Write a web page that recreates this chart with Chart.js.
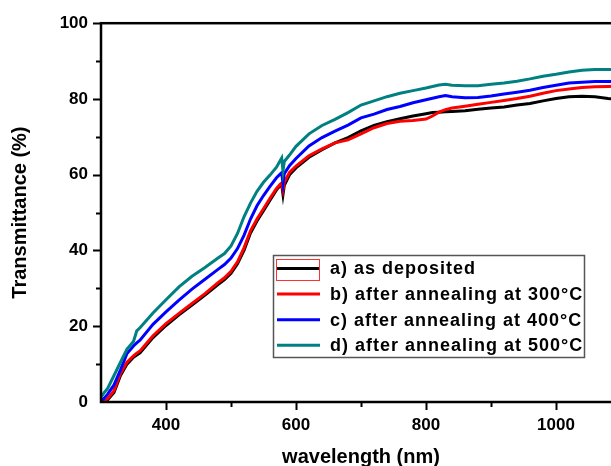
<!DOCTYPE html>
<html>
<head>
<meta charset="utf-8">
<script src="https://cdn.jsdelivr.net/npm/chart.js@4.4.1/dist/chart.umd.min.js"></script>
<style>
  html, body { margin: 0; padding: 0; background: #fff; overflow: hidden; }
  #wrap { width: 640px; height: 480px; }
</style>
</head>
<body>
<div id="wrap"><canvas id="myChart" width="640" height="480"></canvas></div>
<script>
// wavelengths (nm) shared by all four curves
var wavelength = [300, 305, 310, 320, 330, 340, 350, 355, 360, 380, 400, 420, 440, 460, 480, 490, 500,
    510, 520, 530, 540, 550, 560, 570, 576, 578, 580, 582, 590, 600, 620, 640, 660, 680, 700,
    720, 740, 760, 780, 800, 810, 820, 830, 840, 860, 880, 900, 920, 940, 960, 980, 1000,
    1020, 1040, 1060, 1080, 1100];

var asDeposited = [0, 0.1, 0.5, 2.5, 7, 10, 11.8, 12.4, 13, 17, 20.2, 23, 25.6, 28.2, 31, 32.3, 34,
    36.5, 40, 44.6, 47.8, 50.5, 53.3, 56, 57.2, 57.4, 54.8, 57.2, 60, 61.8, 64.6, 66.6, 68.4, 69.8, 71.6,
    73, 74, 74.8, 75.5, 76.1, 76.4, 76.5, 76.6, 76.7, 76.9, 77.3, 77.6, 77.9, 78.4, 78.8, 79.5, 80.1,
    80.6, 80.7, 80.6, 80.1, 79.8];

var anneal300 = [0, 0.3, 0.8, 3, 7.5, 10.5, 12.2, 12.9, 13.5, 17.5, 20.7, 23.4, 26, 28.6, 31.5, 32.8, 34.5,
    37, 40.7, 45.2, 48.3, 51, 53.8, 56.4, 57.5, 57.8, 56, 58, 60.6, 62.3, 65, 66.8, 68.4, 69.2, 70.8,
    72.4, 73.5, 74.1, 74.3, 74.7, 75.5, 76.5, 77.2, 77.6, 78.1, 78.6, 79.1, 79.6, 80.1, 80.7, 81.5, 82.2,
    82.6, 83, 83.2, 83.3, 83.4];

var anneal400 = [0.3, 1, 2, 4.5, 8.5, 12.8, 14.8, 15.6, 16.3, 20.5, 23.8, 26.9, 29.8, 32.4, 35, 36.3, 38,
    40.5, 44, 48.3, 51.8, 54.5, 56.9, 59.2, 60.2, 60.5, 57.7, 60.3, 62.4, 64.3, 67.6, 69.8, 71.5, 73.1, 75,
    76, 77.2, 78, 79, 79.8, 80.2, 80.6, 80.9, 80.6, 80.3, 80.4, 80.8, 81.3, 81.8, 82.3, 83, 83.6,
    84.2, 84.4, 84.6, 84.6, 84.7];

var anneal500 = [1.2, 2.5, 3.5, 7, 10.5, 14, 16, 18.8, 19.6, 23.5, 27, 30.4, 33.2, 35.5, 38, 39.2, 41.2,
    44.5, 48.9, 52.5, 55.6, 58, 59.9, 62, 63.8, 64.4, 61, 63.5, 65.2, 67.5, 70.8, 73, 74.6, 76.4, 78.4,
    79.5, 80.6, 81.5, 82.2, 82.9, 83.3, 83.7, 83.9, 83.6, 83.5, 83.5, 83.9, 84.2, 84.7, 85.3, 86, 86.5,
    87.1, 87.6, 87.8, 87.8, 87.8];

var seriesNames = ['a) as deposited', 'b) after annealing at 300\u00b0C', 'c) after annealing at 400\u00b0C', 'd) after annealing at 500\u00b0C'];
var seriesColors = ['#000000', '#ff0000', '#0000ff', '#008080'];
var xTickLabels = [400, 600, 800, 1000];
var yTickLabels = [0, 20, 40, 60, 80, 100];

var FONT = '"Liberation Sans", Arial, sans-serif';

function pts(vals) {
    return wavelength.map(function(w, i) { return { x: w, y: vals[i] }; });
}

// frame, major/minor ticks, and the boxed legend inside the plot
var framePlugin = {
    id: 'frame',
    afterDraw: function(chart) {
        var ctx = chart.ctx, a = chart.chartArea;
        var xs = chart.scales.x, ys = chart.scales.y;
        ctx.save();
        ctx.strokeStyle = '#000';
        ctx.lineWidth = 2.5;
        ctx.strokeRect(a.left, a.top, a.right - a.left, a.bottom - a.top);

        ctx.lineWidth = 2;
        for (var v = 400; v <= 1100; v += 100) {
            var px = Math.round(xs.getPixelForValue(v)) + 0.5;
            var len = (v % 200 === 0) ? 8 : 5;
            ctx.beginPath();
            ctx.moveTo(px, a.bottom);
            ctx.lineTo(px, a.bottom + len);
            ctx.stroke();
        }
        for (var t = 10; t <= 100; t += 10) {
            var py = Math.round(ys.getPixelForValue(t)) + 0.5;
            var l2 = (t % 20 === 0) ? 8 : 5;
            ctx.beginPath();
            ctx.moveTo(a.left, py);
            ctx.lineTo(a.left - l2, py);
            ctx.stroke();
        }

        // legend
        var bx = 273.5, by = 255.5, bw = 311, bh = 102;
        ctx.fillStyle = '#fff';
        ctx.fillRect(bx, by, bw, bh);
        ctx.strokeStyle = '#555';
        ctx.lineWidth = 1.5;
        ctx.strokeRect(bx, by, bw, bh);
        ctx.font = 'bold 18px ' + FONT;
        ctx.textBaseline = 'middle';
        ctx.textAlign = 'left';
        if ('letterSpacing' in ctx) ctx.letterSpacing = '1px';
        chart.data.datasets.forEach(function(ds, i) {
            var ry = 268.5 + i * 25.6;
            ctx.strokeStyle = ds.borderColor;
            ctx.lineWidth = 3;
            ctx.beginPath();
            ctx.moveTo(277, ry);
            ctx.lineTo(320, ry);
            ctx.stroke();
            ctx.fillStyle = '#000';
            ctx.fillText(ds.label, 330, ry + 1);
        });
        // selection marker around the first sample
        ctx.strokeStyle = '#ff3030';
        ctx.lineWidth = 1;
        ctx.strokeRect(276.5, 259.5, 43, 21);
        ctx.restore();
    }
};

var ctx = document.getElementById('myChart').getContext('2d');
var myChart = new Chart(ctx, {
    type: 'line',
    data: {
        datasets: [
            { label: seriesNames[0], data: pts(asDeposited), borderColor: seriesColors[0], order: 4 },
            { label: seriesNames[1], data: pts(anneal300), borderColor: seriesColors[1], order: 3 },
            { label: seriesNames[2], data: pts(anneal400), borderColor: seriesColors[2], order: 2 },
            { label: seriesNames[3], data: pts(anneal500), borderColor: seriesColors[3], order: 1 }
        ]
    },
    options: {
        responsive: false,
        animation: false,
        events: [],
        layout: { autoPadding: false, padding: { left: 0, top: 20, right: 19, bottom: 8 } },
        elements: {
            line: { borderWidth: 3, tension: 0, fill: false },
            point: { radius: 0 }
        },
        plugins: { legend: { display: false }, tooltip: { enabled: false } },
        scales: {
            x: {
                type: 'linear',
                min: 300,
                max: 1100,
                grid: { display: false, drawTicks: false },
                border: { display: false },
                afterFit: function(s) { s.height = 70; },
                ticks: {
                    stepSize: 100,
                    autoSkip: false,
                    maxRotation: 0,
                    padding: 13,
                    color: '#000',
                    font: { family: FONT, size: 17, weight: 'bold' },
                    callback: function(v) { return xTickLabels.indexOf(v) >= 0 ? String(v) : ''; }
                },
                title: {
                    display: true,
                    text: 'wavelength (nm)',
                    color: '#000',
                    font: { family: FONT, size: 20, weight: 'bold' },
                    padding: { top: 0, bottom: 3 }
                }
            },
            y: {
                min: 0,
                max: 100,
                grid: { display: false, drawTicks: false },
                border: { display: false },
                afterFit: function(s) { s.width = 101; },
                ticks: {
                    stepSize: 10,
                    autoSkip: false,
                    padding: 13,
                    color: '#000',
                    font: { family: FONT, size: 17, weight: 'bold' },
                    callback: function(v) { return yTickLabels.indexOf(v) >= 0 ? String(v) : ''; }
                },
                title: {
                    display: true,
                    text: 'Transmittance (%)',
                    color: '#000',
                    font: { family: FONT, size: 20, weight: 'bold' },
                    padding: { top: 8, bottom: 0 }
                }
            }
        }
    },
    plugins: [framePlugin]
});
</script>
</body>
</html>
